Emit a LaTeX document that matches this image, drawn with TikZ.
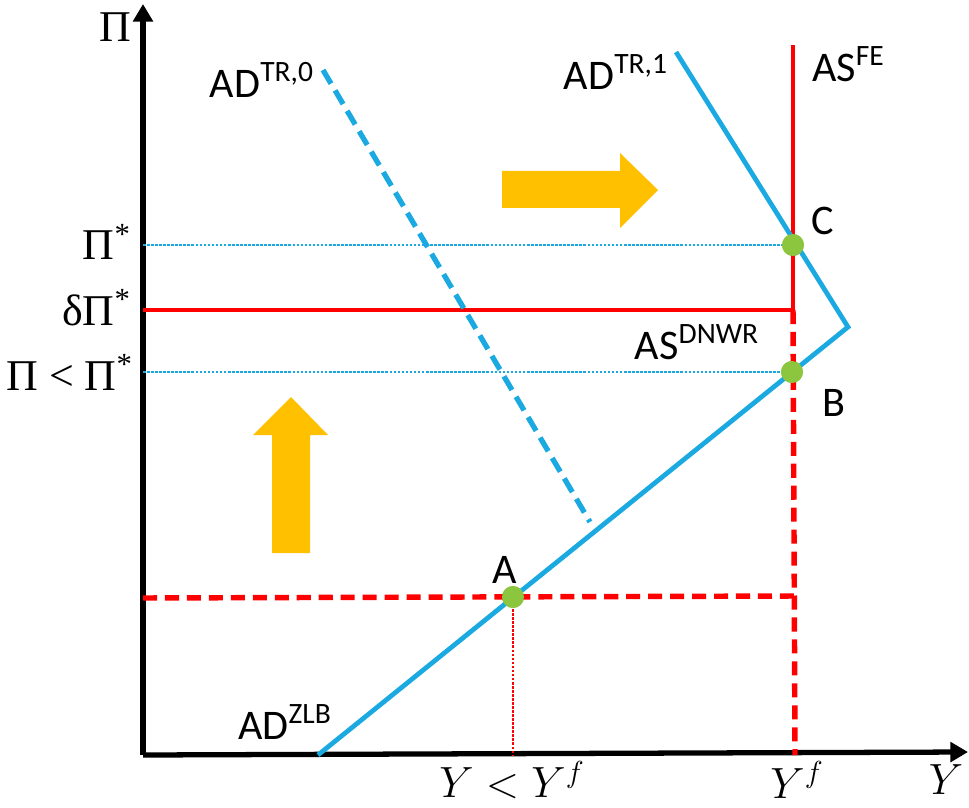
\documentclass[tikz,border=0pt]{standalone}
\usepackage{fontspec}
\setmainfont{Carlito}
\newfontfamily\greekserif{Liberation Serif}
\usetikzlibrary{arrows.meta,positioning}
\definecolor{adblue}{HTML}{1BA9E1}
\definecolor{asred}{HTML}{FF0000}
\definecolor{ptgreen}{HTML}{8CC63F}
\definecolor{shiftgold}{HTML}{FFC000}
\tikzset{
  %% Axes
  axis/.style={line width=3pt, -{Triangle[length=10pt,width=11pt]}},
  %% AD curves
  adline/.style={adblue, line width=2.7pt},
  adshift/.style={adblue, line width=3pt, dash pattern=on 9pt off 4.5pt},
  %% AS curves
  asline/.style={asred, line width=2.7pt},
  asdash/.style={asred, line width=3.1pt, dash pattern=on 8pt off 4.5pt},
  %% Thin guide lines
  guide/.style={adblue, line width=0.6pt, dash pattern=on 1.5pt off 0.8pt},
  guidered/.style={asred, line width=0.6pt, dash pattern=on 1.5pt off 0.8pt},
  %% Equilibrium points
  eqpoint/.style={circle, fill=ptgreen, minimum size=12.5pt, inner sep=0pt},
  %% Labels
  curvelabel/.style={font=\fontsize{24}{28}\selectfont, inner sep=1pt},
  pilabel/.style={font=\greekserif\fontsize{25}{29}\selectfont, inner sep=1pt, anchor=east},
  ylabel/.style={font=\fontsize{23}{27}\selectfont, inner sep=1pt},
  %% Shift arrows
  shiftarrow/.style={fill=shiftgold, draw=none},
}

\begin{document}
\begin{tikzpicture}[x=0.02cm, y=-0.02cm]
  \useasboundingbox (0,0) rectangle (969,807);

  %% axes
  \coordinate (O) at (143,755);
  \coordinate (ytop) at (143,4);
  \coordinate (xend) at (968,752);
  \draw[axis] (O) -- (ytop);
  \draw[axis] (O) -- (xend);

  %% key points
  \coordinate (zlb0) at (318,755);
  \coordinate (kink) at (848,327);
  \coordinate (tr1top) at (676,52);
  \coordinate (tr0top) at (323,70);
  \coordinate (tr0bot) at (590,522);
  \coordinate (fetop) at (793,45);
  \coordinate (fecorner) at (793,310);
  \coordinate (febot) at (795,755);
  \coordinate (dnwr0) at (143,310);
  \coordinate (zlbl) at (143,598);
  \coordinate (zlbr) at (795,596);
  \coordinate (pistar) at (143,245);
  \coordinate (pilow) at (143,372);
  \coordinate (Ax) at (513,755);

  %% guide lines
  \node[eqpoint] (C) at (793,245) {};
  \node[eqpoint] (B) at (792,372) {};
  \node[eqpoint] (A) at (513,597) {};
  \draw[guide] (pistar) -- (C.center);
  \draw[guide] (pilow) -- (B.center);
  \draw[guidered] (A.center) -- (Ax);

  %% AS curves
  \draw[asline] (dnwr0) -- (fecorner) -- (fetop);
  \draw[asdash] (fecorner) -- (febot);
  \draw[asdash] (zlbl) -- (zlbr);

  %% AD curves
  \draw[adshift] (tr0top) -- (tr0bot);
  \draw[adline, line join=miter] (zlb0) -- (kink) -- (tr1top);

  %% points on top
  \node[eqpoint] at (C) {};
  \node[eqpoint] at (B) {};
  \node[eqpoint] at (A) {};

  %% shift arrows
  \fill[shiftarrow] (502,171) -- (620,171) -- (620,153) -- (658,190)
    -- (620,228) -- (620,208) -- (502,208) -- cycle;
  \fill[shiftarrow] (272,553) -- (272,435) -- (253,435) -- (291,397)
    -- (328,435) -- (310,435) -- (310,553) -- cycle;

  %% curve labels
  \node[curvelabel, anchor=east] (adtr0) at (316,80) {AD\textsuperscript{TR,0}};
  \node[curvelabel, anchor=east] (adtr1) at (670,72) {AD\textsuperscript{TR,1}};
  \node[curvelabel, anchor=west] (asfe) at (810,64) {AS\textsuperscript{FE}};
  \node[curvelabel] (asdnwr) at (697,342) {AS\textsuperscript{DNWR}};
  \node[curvelabel] (adzlb) at (285,722) {AD\textsuperscript{ZLB}};
  \node[curvelabel] (labC) at (823,221) {C};
  \node[curvelabel] (labB) at (834,403) {B};
  \node[curvelabel] (labA) at (505,570) {A};

  %% axis labels
  \node[pilabel, anchor=center] (pi) at (115,27) {Π};
  \node[pilabel] (lpistar) at (133,242) {Π\textsuperscript{*}};
  \node[pilabel] (ldelta) at (133,308) {δΠ\textsuperscript{*}};
  \node[pilabel] (lpilow) at (135,372) {Π < Π\textsuperscript{*}};
  \node[ylabel] (lylow) at (512,780) {$Y<Y^f$};
  \node[ylabel] (lyf) at (797,780) {$Y^f$};
  \node[ylabel] (ly) at (946,780) {$Y$};
\end{tikzpicture}
\end{document}
